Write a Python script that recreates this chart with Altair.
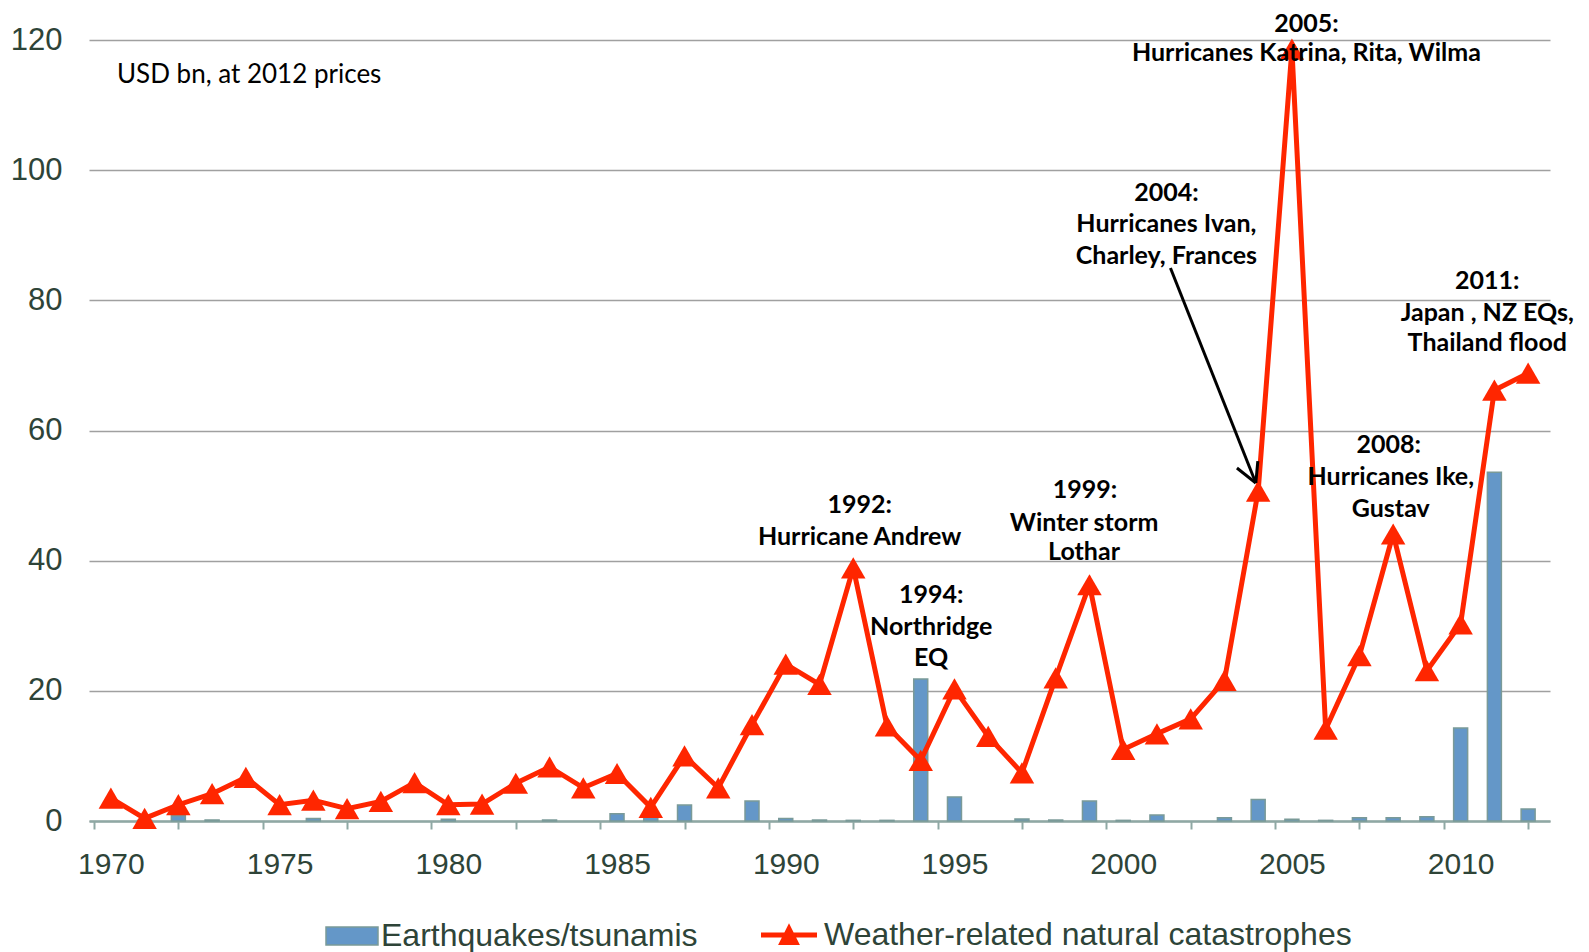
import altair as alt
import pandas as pd

# ---------------- data ----------------
years = list(range(1970, 2013))
quake = [0, 0.1, 0.8, 0.15, 0, 0, 0.4, 0, 0, 0, 0.25, 0, 0, 0.15, 0, 1.1, 0.6, 2.45, 0, 3.07,
         0.4, 0.15, 0.1, 0.1, 21.8, 3.7, 0, 0.3, 0.15, 3.07, 0.1, 0.92, 0, 0.5, 3.3, 0.25, 0.1,
         0.5, 0.5, 0.67, 14.3, 53.6, 1.84]
weather = [3.5, 0.4, 2.5, 4.2, 6.7, 2.5, 3.2, 1.9, 3.0, 5.9, 2.5, 2.6, 5.8, 8.3, 5.1, 7.3, 2.1,
           10.0, 5.1, 14.8, 24.1, 21.0, 38.9, 14.6, 9.3, 20.3, 13.0, 7.4, 22.0, 36.3, 11.0, 13.4,
           15.7, 21.6, 50.7, 118.6, 14.1, 25.4, 44.1, 23.1, 30.3, 66.2, 68.8]

label_years = [1970, 1975, 1980, 1985, 1990, 1995, 2000, 2005, 2010]
tick_years = [1969.5, 1972, 1974.5, 1977, 1979.5, 1982, 1984.5, 1987, 1989.5, 1992, 1994.5,
              1997, 1999.5, 2002, 2004.5, 2007, 2009.5, 2012]
y_ticks = [0, 20, 40, 60, 80, 100, 120]

series_quake = "Earthquakes/tsunamis"
series_weather = "Weather-related natural catastrophes"

ann_text = ["1992:", "Hurricane Andrew",
            "1994:", "Northridge", "EQ",
            "1999:", "Winter storm", "Lothar",
            "2005:", "Hurricanes Katrina, Rita, Wilma",
            "2004:", "Hurricanes Ivan,", "Charley, Frances",
            "2011:", "Japan , NZ EQs,", "Thailand flood",
            "2008:", "Hurricanes Ike,", "Gustav"]
ann_x = [1992.19, 1992.19,
         1994.31, 1994.31, 1994.31,
         1998.87, 1998.84, 1998.84,
         2005.43, 2005.43,
         2001.28, 2001.28, 2001.28,
         2010.79, 2010.79, 2010.79,
         2007.87, 2007.93, 2007.93]
ann_y = [48.55, 43.64,
         34.73, 29.81, 25.05,
         50.86, 45.79, 41.33,
         122.5, 118.01,
         96.50, 91.73, 86.82,
         82.98, 78.06, 73.45,
         57.78, 52.86, 47.94]

unit_text = ["USD bn, at 2012 prices"]
unit_x = [1970.18]
unit_y = [114.6]

arrow_x = [2001.40, 2003.93, 2003.93]
arrow_y = [84.97, 51.94, 51.94]
arrow_x2 = [2003.93, 2003.37, 2003.99]
arrow_y2 = [51.94, 54.24, 55.31]

# ---------------- tables ----------------
df = pd.DataFrame({"year": years, "quake": quake, "weather": weather})
ann = pd.DataFrame({"x": ann_x, "y": ann_y, "t": ann_text})
unit = pd.DataFrame({"x": unit_x, "y": unit_y, "t": unit_text})
arrow = pd.DataFrame({"x": arrow_x, "y": arrow_y, "x2": arrow_x2, "y2": arrow_y2})

RED = "#FF2600"
BLUE = "#6497C8"
BAR_STROKE = "#7A9A98"
AXIS_C = "#8FA8A4"
GRID_C = "#A0A0A0"
LABEL_C = "#2E4438"
AX_FONT = "Liberation Sans"
ANN_FONT = "Lato"

xscale = alt.Scale(domain=[1969.5, 2012.5], nice=False, zero=False)
yscale = alt.Scale(domain=[0, 120], nice=False)

bars = alt.Chart(df).transform_filter("datum.quake > 0").transform_calculate(
    s1="'" + series_quake + "'"
).mark_bar(size=14, stroke=BAR_STROKE, strokeWidth=1.5).encode(
    x=alt.X("year:Q", scale=xscale,
            axis=alt.Axis(values=label_years, format="d", ticks=False, tickSize=0,
                          domain=False, grid=False, labelFont=AX_FONT, labelFontSize=30,
                          labelColor=LABEL_C, labelPadding=28, labelFlush=False,
                          labelOverlap=False, title=None, orient="bottom")),
    y=alt.Y("quake:Q", scale=yscale,
            axis=alt.Axis(values=y_ticks, ticks=False, tickSize=0, domain=False, grid=True,
                          gridColor=GRID_C, gridWidth=1.5, labelFont=AX_FONT, labelFontSize=31,
                          labelColor=LABEL_C, labelPadding=27, title=None, orient="left")),
    color=alt.Color("s1:N", scale=alt.Scale(domain=[series_quake], range=[BLUE]),
                    legend=alt.Legend(orient="none", legendX=236, legendY=869, title=None,
                                      symbolType="M-1,-0.35 L1,-0.35 L1,0.35 L-1,0.35 Z",
                                      symbolSize=2704, symbolStrokeColor=BAR_STROKE,
                                      symbolStrokeWidth=1.5, symbolOpacity=1,
                                      labelFont=AX_FONT, labelFontSize=32, labelColor=LABEL_C,
                                      labelLimit=1000, labelOffset=2)),
)

line = alt.Chart(df).mark_line(color=RED, strokeWidth=5).encode(
    x=alt.X("year:Q", scale=xscale,
            axis=alt.Axis(values=tick_years, labels=False, ticks=True, tickSize=8,
                          tickColor=AXIS_C, tickWidth=2, domain=True, domainColor=AXIS_C,
                          domainWidth=2.5, grid=False, title=None, orient="bottom")),
    y=alt.Y("weather:Q", scale=yscale, axis=None),
)

points = alt.Chart(df).transform_calculate(
    s2="'" + series_weather + "'"
).mark_point(shape="triangle-up", size=600, filled=True, opacity=1).encode(
    x=alt.X("year:Q", scale=xscale, axis=None),
    y=alt.Y("weather:Q", scale=yscale, axis=None),
    fill=alt.Fill("s2:N", scale=alt.Scale(domain=[series_weather], range=[RED]),
                  legend=alt.Legend(orient="none", legendX=672, legendY=867, title=None,
                                    symbolType="M-1,-0.09 L1,-0.09 L1,0.09 L-1,0.09 Z M0,-0.42 L0.39,0.36 L-0.39,0.36 Z",
                                    symbolSize=3136, symbolStrokeWidth=0, symbolOpacity=1,
                                    labelFont=AX_FONT, labelFontSize=32, labelColor=LABEL_C,
                                    labelLimit=1000, labelOffset=7)),
)

arrows = alt.Chart(arrow).mark_rule(color="black", strokeWidth=3).encode(
    x=alt.X("x:Q", scale=xscale, axis=None),
    x2="x2:Q",
    y=alt.Y("y:Q", scale=yscale, axis=None),
    y2="y2:Q",
)

labels = alt.Chart(ann).mark_text(font=ANN_FONT, fontWeight="bold", fontSize=25,
                                  align="center", baseline="middle", color="black").encode(
    x=alt.X("x:Q", scale=xscale, axis=None),
    y=alt.Y("y:Q", scale=yscale, axis=None),
    text="t:N",
)

unit_label = alt.Chart(unit).mark_text(font=ANN_FONT, fontSize=26, align="left",
                                       baseline="middle", color="black").encode(
    x=alt.X("x:Q", scale=xscale, axis=None),
    y=alt.Y("y:Q", scale=yscale, axis=None),
    text="t:N",
)

chart = alt.layer(bars, line, points, arrows, labels, unit_label).resolve_axis(
    x="independent", y="independent"
).properties(
    width=1461, height=781,
    autosize=alt.AutoSizeParams(type="none"),
    padding={"left": 81, "top": 32, "right": 31, "bottom": 150},
    background="white",
).configure_view(stroke=None)

chart.save("out.html", embed_options={"renderer": "svg", "actions": False})
